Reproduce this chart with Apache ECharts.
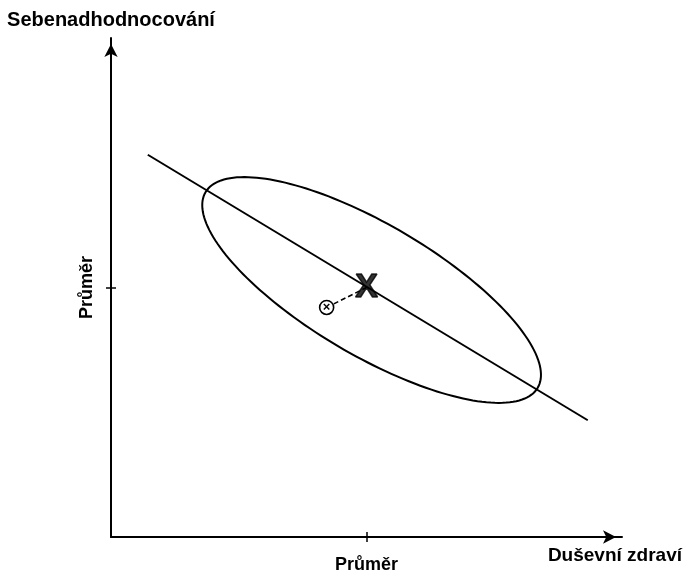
<!DOCTYPE html>
<html><head><meta charset="utf-8">
<script src="https://cdn.jsdelivr.net/npm/echarts@6/dist/echarts.min.js"></script>
<style>html,body{margin:0;padding:0;background:#fff}#c{width:695px;height:578px}</style>
</head><body><div id="c"></div>
<script>
// ---- data ----
const xAxisName = 'Duševní zdraví';
const yAxisName = 'Sebenadhodnocování';
const meanLabel = 'Průměr';
const meanX = 50;
const meanY = 50;
const regressionLine = [[7.2, 76.6], [93.3, 23.4]];
// ellipse: center, semi-major vector, semi-minor vector (data units)
const ellipseCenter = [51.0, 49.5];
const ellipseMajor = [32.5, -19.6];
const ellipseMinor = [6.5, 11.3];
const meanPoint = [50, 50];
const individualPoint = [42.2, 46.0];

const FONT = 'Liberation Sans, Arial, Helvetica, sans-serif';
const chart = echarts.init(document.getElementById('c'), null, {renderer: 'canvas'});

const lineSt = {color: '#000', width: 2};
const labelSt = {color: '#000', fontFamily: FONT, fontWeight: 'bold', fontSize: 18};

chart.setOption({
  animation: false,
  backgroundColor: '#fff',
  grid: {left: 111, right: 73, top: 38, bottom: 41, containLabel: false},
  xAxis: [{
    type: 'value', min: 0, max: 100, position: 'bottom',
    axisLine: {show: true, onZero: false, symbol: ['none', 'arrow'], symbolSize: [10, 13], symbolOffset: [0, -6], lineStyle: lineSt},
    axisTick: {show: true, customValues: [meanX], length: 5, inside: false, lineStyle: {color: '#000', width: 1.5}},
    axisLabel: {show: true, customValues: [meanX], formatter: function () { return meanLabel; }, margin: 19, ...labelSt},
    splitLine: {show: false},
    name: xAxisName, nameLocation: 'end', nameGap: 60,
    nameTextStyle: {...labelSt, fontSize: 19, align: 'right', verticalAlign: 'top', padding: [9, 0, 0, 0]}
  }, {
    type: 'value', min: 0, max: 100, position: 'bottom',
    axisLine: {show: false, onZero: false},
    axisTick: {show: true, customValues: [meanX], length: 5, inside: true, lineStyle: {color: '#000', width: 1.5}},
    axisLabel: {show: false},
    splitLine: {show: false}
  }],
  yAxis: [{
    type: 'value', min: 0, max: 100, position: 'left',
    axisLine: {show: true, onZero: false, symbol: ['none', 'arrow'], symbolSize: [10, 13], symbolOffset: [0, -6], lineStyle: lineSt},
    axisTick: {show: true, customValues: [meanY], length: 5, inside: false, lineStyle: {color: '#000', width: 1.5}},
    axisLabel: {show: true, customValues: [meanY], formatter: function () { return meanLabel; }, rotate: 90, margin: 15, ...labelSt},
    splitLine: {show: false},
    name: yAxisName, nameLocation: 'end', nameGap: 8,
    nameTextStyle: {...labelSt, fontSize: 20}
  }, {
    type: 'value', min: 0, max: 100, position: 'left',
    axisLine: {show: false, onZero: false},
    axisTick: {show: true, customValues: [meanY], length: 5, inside: true, lineStyle: {color: '#000', width: 1.5}},
    axisLabel: {show: false},
    splitLine: {show: false}
  }],
  series: [
    {
      type: 'custom', silent: true, z: 2,
      data: [[ellipseCenter[0], ellipseCenter[1], ellipseMajor[0], ellipseMajor[1], ellipseMinor[0], ellipseMinor[1]]],
      renderItem: function (params, api) {
        const cx = api.value(0), cy = api.value(1), ux = api.value(2), uy = api.value(3), vx = api.value(4), vy = api.value(5);
        const pts = [];
        const n = 180;
        for (let i = 0; i < n; i++) {
          const t = i / n * Math.PI * 2;
          pts.push(api.coord([cx + Math.cos(t) * ux + Math.sin(t) * vx, cy + Math.cos(t) * uy + Math.sin(t) * vy]));
        }
        return {type: 'polygon', shape: {points: pts}, style: {fill: 'none', stroke: '#000', lineWidth: 2}};
      }
    },
    {
      type: 'line', data: regressionLine, symbol: 'none', silent: true, z: 2,
      lineStyle: {color: '#000', width: 2}
    },
    {
      type: 'line', data: [individualPoint, meanPoint], symbol: 'none', silent: true, z: 3,
      lineStyle: {color: '#000', width: 1.6, type: [5, 3]}
    },
    {
      type: 'scatter', data: [individualPoint], symbol: 'circle', symbolSize: 14, silent: true, z: 5,
      itemStyle: {color: '#fff', borderColor: '#000', borderWidth: 1.6, opacity: 1},
      label: {show: true, position: 'inside', formatter: '×', color: '#000', fontFamily: FONT, fontWeight: 'bold', fontSize: 13}
    },
    {
      type: 'scatter', data: [meanPoint], symbol: 'circle', symbolSize: 1, silent: true, z: 6,
      itemStyle: {color: 'rgba(0,0,0,0)'},
      label: {show: true, position: 'inside', formatter: 'X', color: '#000', fontFamily: FONT, fontWeight: 'bold', fontSize: 34,
        textBorderColor: '#000', textBorderWidth: 1.5}
    }
  ]
});
</script>
</body></html>
